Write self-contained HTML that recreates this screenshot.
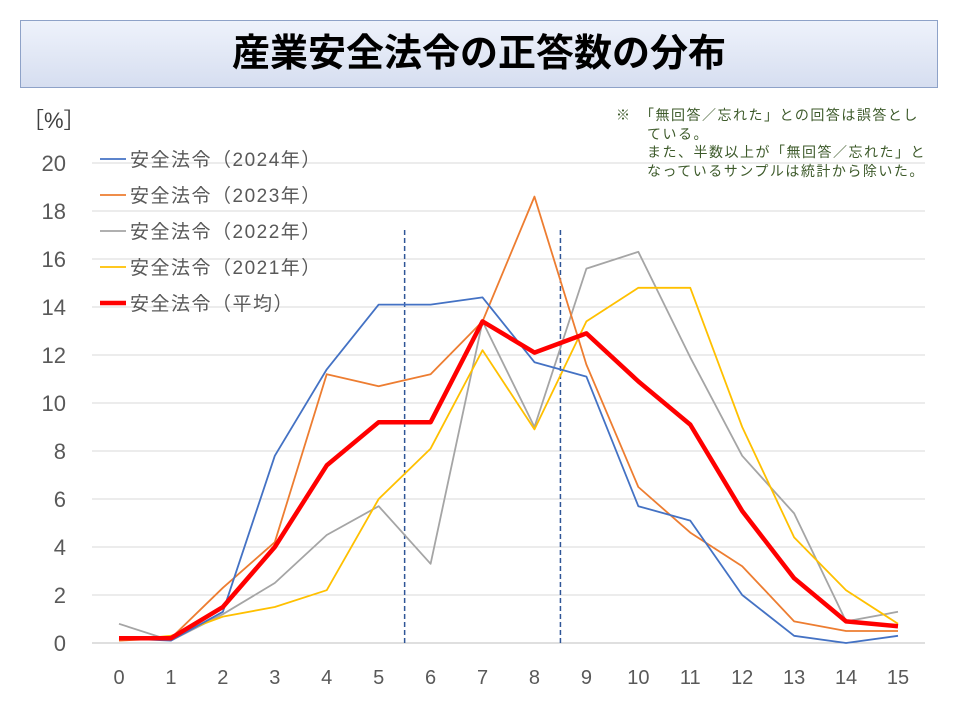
<!DOCTYPE html>
<html><head><meta charset="utf-8"><style>
body{margin:0;background:#fff;width:960px;height:720px;overflow:hidden;font-family:"Liberation Sans","Noto Sans CJK JP",sans-serif}
#title{position:absolute;left:20px;top:20px;width:918px;height:68px;border:1px solid #8ea2c8;background:linear-gradient(#eef2fb,#d6def0);box-sizing:border-box;text-align:center;font-size:38px;line-height:66px;color:#000;font-weight:bold}
#note{position:absolute;left:616px;top:106px;font-size:14px;letter-spacing:1.5px;line-height:18.5px;color:#3d5a2a;white-space:pre}
</style></head><body>
<div id="title">産業安全法令の正答数の分布</div>
<div id="note">※　「無回答／忘れた」との回答は誤答とし
　　ている。
　　また、半数以上が「無回答／忘れた」と
　　なっているサンプルは統計から除いた。</div>
<svg id="chart" width="960" height="720" style="position:absolute;left:0;top:0"></svg>
<script>
const categories=[0,1,2,3,4,5,6,7,8,9,10,11,12,13,14,15];
const s2024=[0.2,0.1,1.3,7.8,11.4,14.1,14.1,14.4,11.7,11.1,5.7,5.1,2.0,0.3,0.0,0.3];
const s2023=[0.1,0.2,2.3,4.2,11.2,10.7,11.2,13.4,18.6,11.6,6.5,4.6,3.2,0.9,0.5,0.5];
const s2022=[0.8,0.1,1.2,2.5,4.5,5.7,3.3,13.4,9.0,15.6,16.3,11.9,7.8,5.4,0.9,1.3];
const s2021=[0.1,0.3,1.1,1.5,2.2,6.0,8.1,12.2,8.9,13.4,14.8,14.8,9.0,4.4,2.2,0.8];
const sAvg=[0.2,0.2,1.5,4.0,7.4,9.2,9.2,13.4,12.1,12.9,10.9,9.1,5.5,2.7,0.9,0.7];
const yTicks=[0,2,4,6,8,10,12,14,16,18,20];
const dividers=[5.5,8.5];
const seriesNames=["安全法令（2024年）","安全法令（2023年）","安全法令（2022年）","安全法令（2021年）","安全法令（平均）"];
const NS="http://www.w3.org/2000/svg";
const svg=document.getElementById('chart');
const x=v=>119+v*(898-119)/15;
const y=v=>643-v*24;
function mk(t,a){const e=document.createElementNS(NS,t);for(const k in a)e.setAttribute(k,a[k]);svg.appendChild(e);return e;}
yTicks.forEach(t=>{
 if(t>0){const g=mk('line',{x1:92,x2:925,y1:y(t),y2:y(t),stroke:'#d9d9d9','stroke-width':1});
 
 }
 const l=mk('text',{x:66,y:y(t)+8,'text-anchor':'end','font-size':22,fill:'#595959'});
 l.textContent=t;
 
 
});
const ax=mk('line',{x1:92,x2:925,y1:y(0),y2:y(0),stroke:'#bfbfbf','stroke-width':1});


categories.forEach(c=>{
 const l=mk('text',{x:x(c),y:684,'text-anchor':'middle','font-size':20,fill:'#595959'});
 l.textContent=c;
 
 
});
const yt=mk('text',{x:22,y:128,'font-size':22,fill:'#404040'});
yt.textContent='［%］';


dividers.forEach(d=>{
 const l=mk('line',{x1:x(d),x2:x(d),y1:230,y2:y(0),stroke:'#2f5597','stroke-width':1.5,'stroke-dasharray':'5,3'});
 
 
});
const series=[[s2022,'#a5a5a5',1.8,'series-2022'],[s2021,'#ffc000',1.8,'series-2021'],[s2023,'#ed7d31',1.8,'series-2023'],[s2024,'#4472c4',1.8,'series-2024'],[sAvg,'#ff0000',4.5,'series-average']];
series.forEach(s=>{
 const p=mk('polyline',{points:s[0].map((v,i)=>x(categories[i])+','+y(v)).join(' '),fill:'none',stroke:s[1],'stroke-width':s[2],'stroke-linejoin':'round'});
 
 
});
const legCols=['#4472c4','#ed7d31','#a5a5a5','#ffc000','#ff0000'];
const legW=[1.8,1.8,1.8,1.8,4.5];
seriesNames.forEach((n,i)=>{
 const yy=159+i*36;
 const l=mk('line',{x1:100,x2:126,y1:yy,y2:yy,stroke:legCols[i],'stroke-width':legW[i]});
 
 
 const t=mk('text',{x:130,y:yy+7,'font-size':19,'letter-spacing':1.5,fill:'#595959'});
 t.textContent=n;
 
 
});
</script>
</body></html>
